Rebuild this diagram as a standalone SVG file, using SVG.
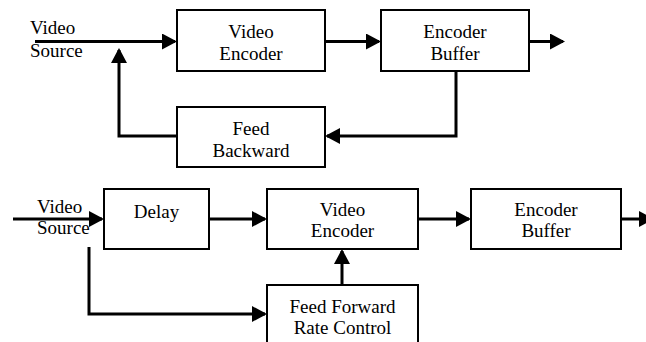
<svg xmlns="http://www.w3.org/2000/svg" width="646" height="342" viewBox="0 0 646 342">
<style>
.box{fill:#fff;stroke:#000;stroke-width:2}
.ln{fill:none;stroke:#000;stroke-width:3}
</style>
<defs>
<marker id="ah" markerUnits="userSpaceOnUse" markerWidth="16" markerHeight="17" refX="13" refY="8" orient="auto" viewBox="0 0 16 17">
<path d="M0,0 L15,8 L0,16 z" fill="#000"/>
</marker>
</defs>
<rect width="646" height="342" fill="#fff"/>
<g id="connectors">
<path class="ln" d="M35,41.5 H175" marker-end="url(#ah)"/>
<path class="ln" d="M325,41.5 H379" marker-end="url(#ah)"/>
<path class="ln" d="M529,41.5 H563" marker-end="url(#ah)"/>
<path class="ln" d="M456,71 V136 H327" marker-end="url(#ah)"/>
<path class="ln" d="M177,136 H119 V50" marker-end="url(#ah)"/>
<path class="ln" d="M13,219 H102" marker-end="url(#ah)"/>
<path class="ln" d="M209,219 H265" marker-end="url(#ah)"/>
<path class="ln" d="M418,219 H469" marker-end="url(#ah)"/>
<path class="ln" d="M621,219 H652" marker-end="url(#ah)"/>
<path class="ln" d="M89,247 V314 H265" marker-end="url(#ah)"/>
<path class="ln" d="M342,285 V251" marker-end="url(#ah)"/>
</g>
<g id="video-source-top">
<text x="30" y="34" font-family="Liberation Serif" font-size="19">Video</text>
<text x="30" y="57" font-family="Liberation Serif" font-size="19">Source</text>
</g>
<g id="video-encoder-top">
<rect class="box" x="177" y="10" width="148" height="61"/>
<text x="251" y="37.5" text-anchor="middle" font-family="Liberation Serif" font-size="19">Video</text>
<text x="251" y="60" text-anchor="middle" font-family="Liberation Serif" font-size="19">Encoder</text>
</g>
<g id="encoder-buffer-top">
<rect class="box" x="381" y="10" width="148" height="61"/>
<text x="455" y="37.5" text-anchor="middle" font-family="Liberation Serif" font-size="19">Encoder</text>
<text x="455" y="60" text-anchor="middle" font-family="Liberation Serif" font-size="19">Buffer</text>
</g>
<g id="feed-backward">
<rect class="box" x="177" y="107" width="148" height="60"/>
<text x="251" y="135" text-anchor="middle" font-family="Liberation Serif" font-size="19">Feed</text>
<text x="251" y="157" text-anchor="middle" font-family="Liberation Serif" font-size="19">Backward</text>
</g>
<g id="video-source-bottom">
<text x="37" y="213" font-family="Liberation Serif" font-size="19">Video</text>
<text x="37" y="234" font-family="Liberation Serif" font-size="19">Source</text>
</g>
<g id="delay">
<rect class="box" x="104" y="189" width="105" height="60"/>
<text x="156.5" y="218" text-anchor="middle" font-family="Liberation Serif" font-size="19">Delay</text>
</g>
<g id="video-encoder-bottom">
<rect class="box" x="267" y="189" width="151" height="60"/>
<text x="342.5" y="216" text-anchor="middle" font-family="Liberation Serif" font-size="19">Video</text>
<text x="342.5" y="237" text-anchor="middle" font-family="Liberation Serif" font-size="19">Encoder</text>
</g>
<g id="encoder-buffer-bottom">
<rect class="box" x="471" y="189" width="150" height="60"/>
<text x="546" y="216" text-anchor="middle" font-family="Liberation Serif" font-size="19">Encoder</text>
<text x="546" y="237" text-anchor="middle" font-family="Liberation Serif" font-size="19">Buffer</text>
</g>
<g id="feed-forward-rate-control">
<rect class="box" x="267" y="285" width="151" height="70"/>
<text x="342.5" y="313" text-anchor="middle" font-family="Liberation Serif" font-size="19">Feed Forward</text>
<text x="342.5" y="334" text-anchor="middle" font-family="Liberation Serif" font-size="19">Rate Control</text>
</g>
</svg>
